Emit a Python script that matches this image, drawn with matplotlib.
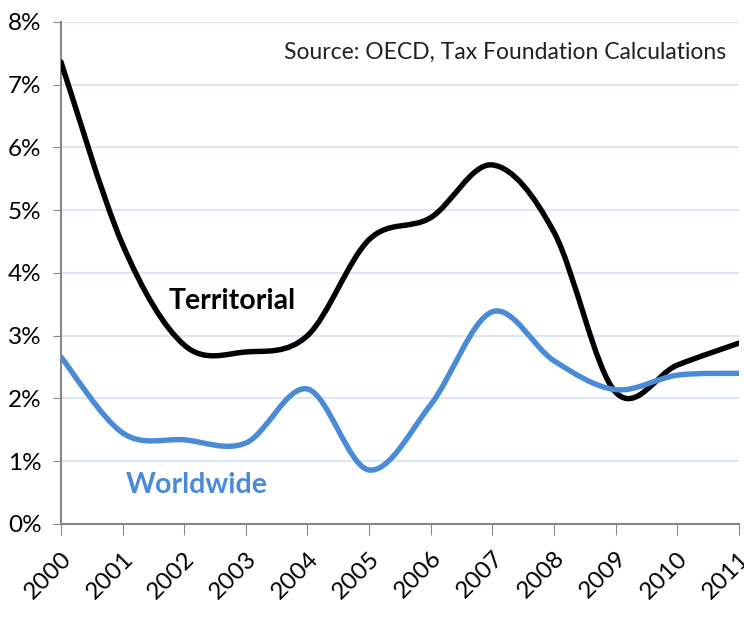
import numpy as np
import matplotlib
matplotlib.use('Agg')
import matplotlib.pyplot as plt
from matplotlib.path import Path
from matplotlib.patches import PathPatch
import matplotlib.ticker as ticker

years = [2000, 2001, 2002, 2003, 2004, 2005, 2006, 2007, 2008, 2009, 2010, 2011]
territorial = [7.36, 4.45, 2.85, 2.74, 3.00, 4.53, 4.88, 5.72, 4.65, 2.10, 2.53, 2.88]
worldwide = [2.66, 1.45, 1.34, 1.29, 2.15, 0.86, 1.90, 3.38, 2.60, 2.14, 2.37, 2.40]

BLUE = '#4a8bd8'
FONT = ['Lato', 'DejaVu Sans']
plt.rcParams['font.family'] = FONT


def smooth_path(x, y):
    # Excel-style smoothed line: Catmull-Rom segments as cubic Bezier curves
    pts = np.column_stack([x, y]).astype(float)
    ext = np.vstack([pts[0], pts, pts[-1]])
    verts = [pts[0]]
    codes = [Path.MOVETO]
    for i in range(1, len(ext) - 2):
        p0, p1, p2, p3 = ext[i - 1], ext[i], ext[i + 1], ext[i + 2]
        c1 = p1 + (p2 - p0) / 6.0
        c2 = p2 - (p3 - p1) / 6.0
        verts += [c1, c2, p2]
        codes += [Path.CURVE4] * 3
    return Path(verts, codes)


fig = plt.figure(figsize=(7.44, 6.23), dpi=100)
ax = fig.add_axes([0.082, 0.159, 0.911, 0.806])

for vals, col in [(territorial, 'black'), (worldwide, BLUE)]:
    ax.add_patch(PathPatch(smooth_path(years, vals), facecolor='none',
                           edgecolor=col, lw=3.9, capstyle='round', zorder=3))

ax.set_xlim(2000, 2011)
ax.set_ylim(0, 8)
ax.set_xticks(years)
ax.set_xticklabels([str(y) for y in years], rotation=45, ha='right',
                   rotation_mode='anchor', fontsize=17.5)
ax.set_yticks(range(0, 9))
ax.yaxis.set_major_formatter(ticker.FuncFormatter(lambda v, p: f"{int(v)}%"))
ax.tick_params(axis='y', labelsize=17.5, length=6, color='#888888', pad=8)
ax.tick_params(axis='x', length=8, color='#888888', pad=9)
ax.grid(axis='y', color='#dde7f3', lw=1.5, zorder=0)
ax.set_axisbelow(True)
for s in ['top', 'right']:
    ax.spines[s].set_visible(False)
for s in ['left', 'bottom']:
    ax.spines[s].set_color('#888888')
    ax.spines[s].set_linewidth(1.5)

ax.text(2010.8, 7.52, 'Source: OECD, Tax Foundation Calculations', ha='right',
        va='center', fontsize=16.5, color='#222222')
ax.text(2001.75, 3.55, 'Territorial', ha='left', va='center', fontsize=20.5,
        fontweight='bold', color='black')
ax.text(2001.05, 0.62, 'Worldwide', ha='left', va='center', fontsize=20.5,
        fontweight='bold', color=BLUE)

fig.savefig('out.png', dpi=100)
